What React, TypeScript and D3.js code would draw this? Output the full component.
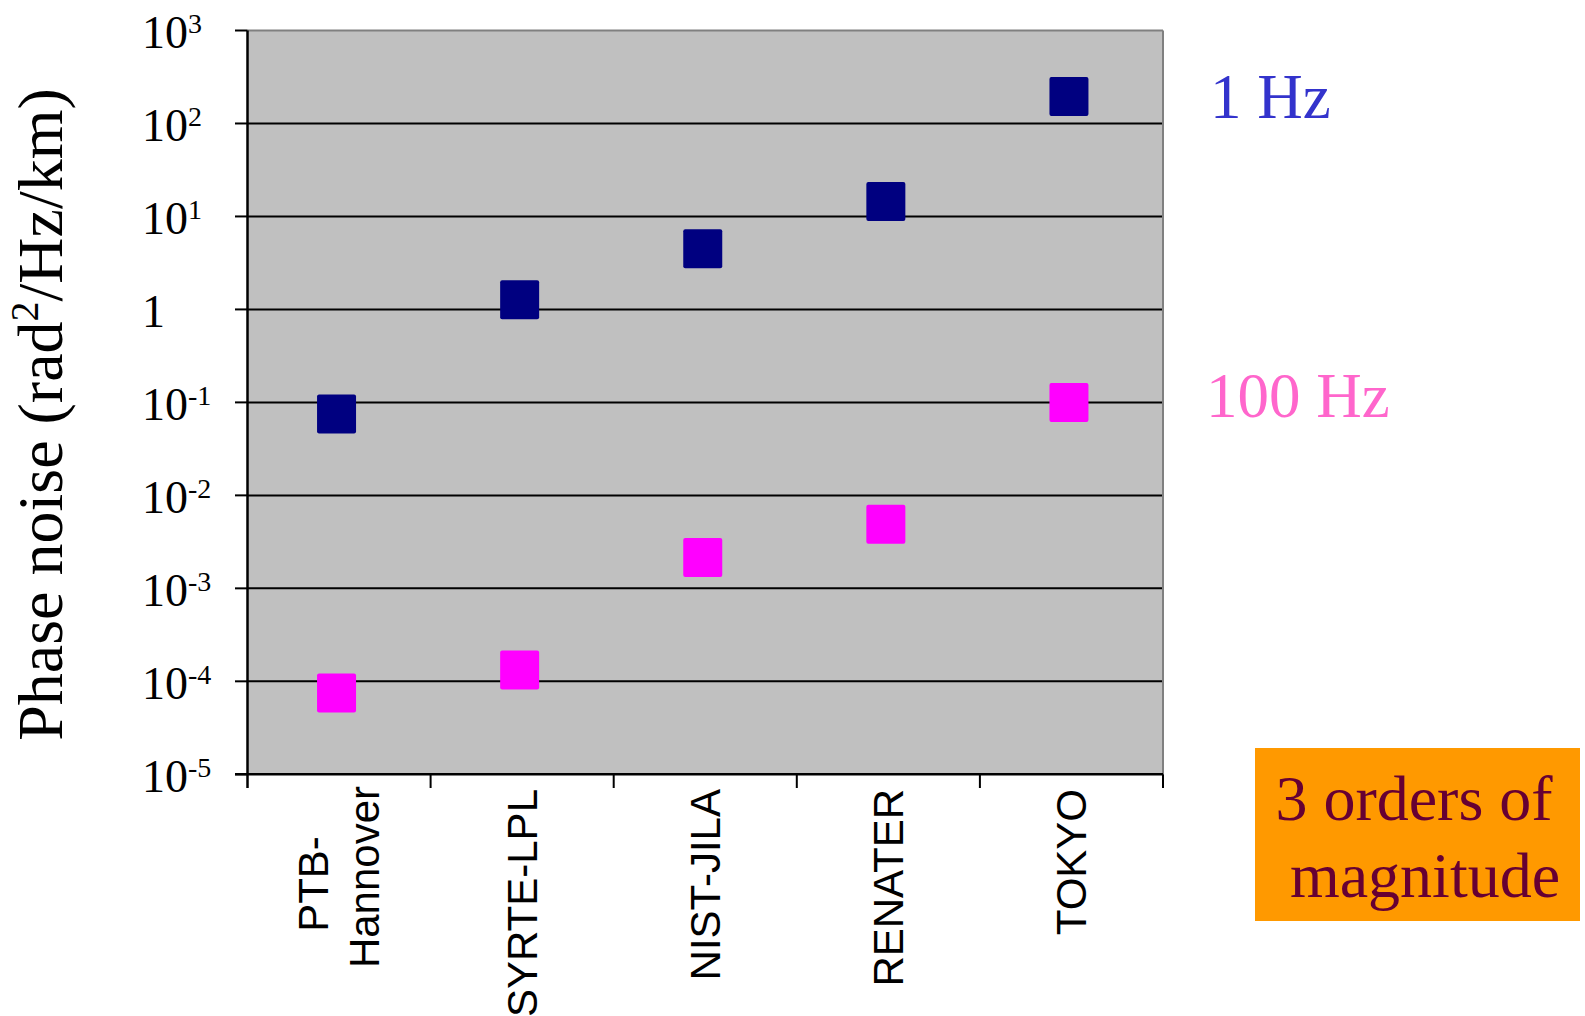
import React from "react";
import * as d3 from "d3";

// Sites along the horizontal axis, and how each label is broken into lines
const sites = ["PTB-Hannover", "SYRTE-LPL", "NIST-JILA", "RENATER", "TOKYO"];
const siteLabelLines = [["PTB-", "Hannover"], ["SYRTE-LPL"], ["NIST-JILA"], ["RENATER"], ["TOKYO"]];

// Phase noise per km, rad²/Hz/km
const noiseAt1Hz = [0.075, 1.27, 4.5, 14.5, 195];
const noiseAt100Hz = [7.5e-5, 1.32e-4, 2.15e-3, 4.9e-3, 0.1];

// Decade exponents shown on the log axis
const decadeExponents = [3, 2, 1, 0, -1, -2, -3, -4, -5];

const seriesLabels = ["1 Hz", "100 Hz"];
const noteLines = ["3 orders of", "magnitude"];

const W = 1585;
const H = 1016;
const plot = { left: 247.5, right: 1163, top: 30.5, bottom: 774.3 };

const SERIF = "'Liberation Serif', 'Times New Roman', serif";
const SANS = "'Liberation Sans', Arial, sans-serif";

const NAVY = "#000080";
const MAGENTA = "#FF00FF";

export default function App() {
  const y = d3.scaleLog().domain([1e-5, 1e3]).range([plot.bottom, plot.top]);
  const x = d3.scaleBand<string>().domain(sites).range([plot.left, plot.right]);
  const bw = x.bandwidth();
  const marker = 39;
  // markers sit a touch left of the category centre
  const markerShift = -2.5;

  const series = [
    { values: noiseAt1Hz, color: NAVY },
    { values: noiseAt100Hz, color: MAGENTA },
  ];

  const boundaries = d3.range(sites.length + 1).map((i) => plot.left + i * bw);

  return (
    <svg
      width={W}
      height={H}
      viewBox={`0 0 ${W} ${H}`}
      style={{ position: "absolute", left: 0, top: 0, background: "#fff" }}
    >
      {/* plot area */}
      <rect
        x={plot.left}
        y={plot.top}
        width={plot.right - plot.left}
        height={plot.bottom - plot.top}
        fill="#C0C0C0"
      />
      <line x1={plot.left} x2={plot.right} y1={plot.top} y2={plot.top} stroke="#808080" strokeWidth={2} />
      <line x1={plot.right} x2={plot.right} y1={plot.top} y2={plot.bottom} stroke="#808080" strokeWidth={2} />

      {/* decade gridlines and ticks */}
      {decadeExponents.map((e) => {
        const yy = y(Math.pow(10, e));
        return (
          <g key={`g${e}`}>
            {e < 3 && e > -5 && (
              <line x1={plot.left} x2={plot.right - 1} y1={yy} y2={yy} stroke="#000" strokeWidth={2} />
            )}
            <line x1={235} x2={plot.left} y1={yy} y2={yy} stroke="#000" strokeWidth={2} />
          </g>
        );
      })}

      {/* axes */}
      <line x1={plot.left} x2={plot.left} y1={plot.top} y2={788} stroke="#000" strokeWidth={2.5} />
      <line x1={235} x2={plot.right} y1={plot.bottom} y2={plot.bottom} stroke="#000" strokeWidth={2.5} />
      {boundaries.slice(1).map((bx, i) => (
        <line key={`xt${i}`} x1={bx} x2={bx} y1={plot.bottom} y2={788} stroke="#000" strokeWidth={2} />
      ))}

      {/* y tick labels */}
      {decadeExponents.map((e) => {
        const yy = y(Math.pow(10, e)) + 17.5;
        return (
          <text key={`yl${e}`} x={142} y={yy} fontFamily={SERIF} fontSize={46} fill="#000">
            {e === 0 ? (
              "1"
            ) : (
              <>
                10
                <tspan fontSize={28} dy={-15}>
                  {e < 0 ? `-${-e}` : `${e}`}
                </tspan>
              </>
            )}
          </text>
        );
      })}

      {/* y axis title */}
      <text
        transform="translate(62,414.5) rotate(-90)"
        textAnchor="middle"
        fontFamily={SERIF}
        fontSize={64}
        fill="#000"
      >
        Phase noise (rad
        <tspan fontSize={40} dy={-24}>
          2
        </tspan>
        <tspan dy={24}>/Hz/km)</tspan>
      </text>

      {/* category labels */}
      {sites.map((s, i) => {
        const cx = (x(s) as number) + bw / 2;
        const lines = siteLabelLines[i];
        if (lines.length === 1) {
          return (
            <text
              key={`xl${s}`}
              transform={`translate(${cx + 15},789) rotate(-90)`}
              textAnchor="end"
              fontFamily={SANS}
              fontSize={42}
              fill="#000"
            >
              {lines[0]}
            </text>
          );
        }
        return (
          <g key={`xl${s}`}>
            <text
              transform={`translate(${cx - 11.5},884) rotate(-90)`}
              textAnchor="middle"
              fontFamily={SANS}
              fontSize={42}
              fill="#000"
            >
              {lines[0]}
            </text>
            <text
              transform={`translate(${cx + 40},786) rotate(-90)`}
              textAnchor="end"
              fontFamily={SANS}
              fontSize={42}
              fill="#000"
            >
              {lines[1]}
            </text>
          </g>
        );
      })}

      {/* markers */}
      {series.map((sr, k) =>
        sr.values.map((v, i) => {
          const cx = (x(sites[i]) as number) + bw / 2 + markerShift;
          const cy = y(v);
          return (
            <rect
              key={`m${k}-${i}`}
              x={cx - marker / 2}
              y={cy - marker / 2}
              width={marker}
              height={marker}
              rx={2}
              fill={sr.color}
            />
          );
        })
      )}

      {/* series labels */}
      <text x={1210} y={118} fontFamily={SERIF} fontSize={63} fill="#3333CC">
        {seriesLabels[0]}
      </text>
      <text x={1206} y={417} fontFamily={SERIF} fontSize={63} fill="#FF66CC">
        {seriesLabels[1]}
      </text>

      {/* note box */}
      <rect x={1255} y={748} width={325} height={173} fill="#FF9900" />
      <text x={1414} y={820} textAnchor="middle" fontFamily={SERIF} fontSize={64} fill="#660033">
        {noteLines[0]}
      </text>
      <text x={1425} y={897} textAnchor="middle" fontFamily={SERIF} fontSize={64} fill="#660033">
        {noteLines[1]}
      </text>
    </svg>
  );
}
